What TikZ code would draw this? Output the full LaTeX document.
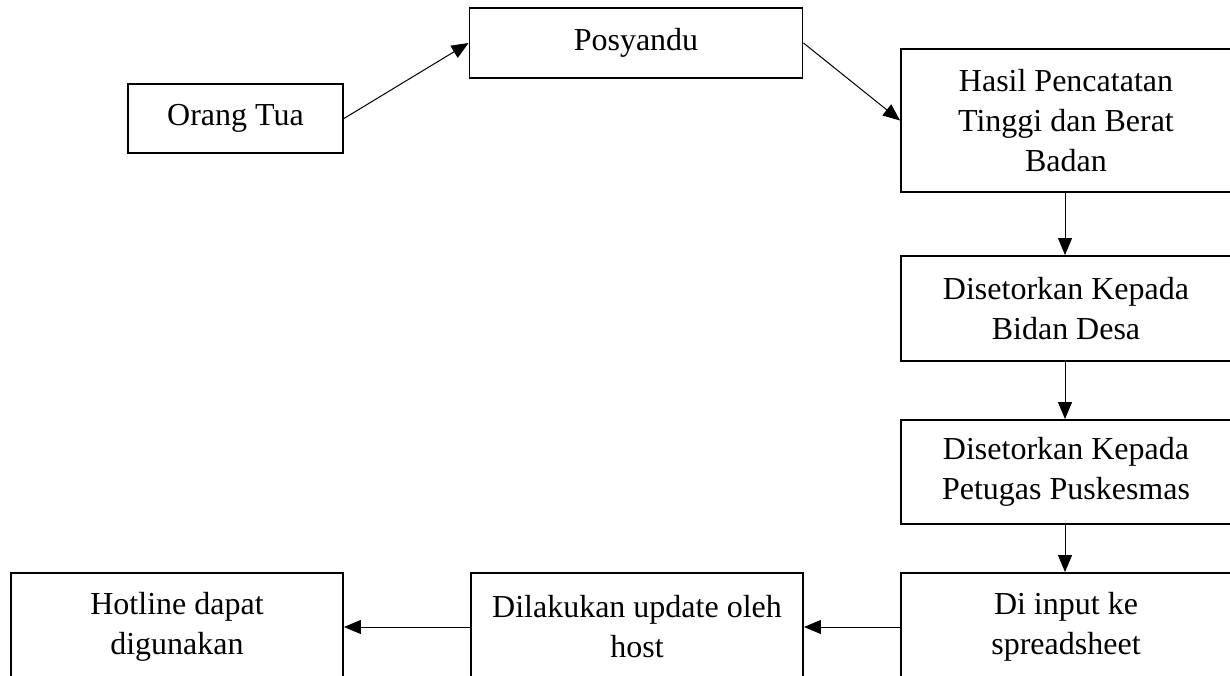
\documentclass[tikz,border=0pt]{standalone}
\usepackage{fontspec}
\setmainfont{Liberation Serif}
\usetikzlibrary{arrows.meta}
\begin{document}
\begin{tikzpicture}[x=1pt,y=1pt,
  box/.style={draw=black, line width=1.9pt, fill=white, inner sep=0pt, align=center,
    font=\fontsize{32}{40}\selectfont},
  flow/.style={line width=1pt, -{Triangle[length=17pt,width=14pt]}}]
\useasboundingbox (0,0) rectangle (1230,675);
\node[box, minimum width=215, minimum height=69] (ot) at (235.5,556.5) {Orang Tua};
\node[box, minimum width=333, minimum height=69.5] (pos) at (636,632) {Posyandu};
\node[box, minimum width=330, minimum height=143] (hasil) at (1066,554.5) {Hasil Pencatatan\\Tinggi dan Berat\\Badan};
\node[box, minimum width=330, minimum height=105] (bidan) at (1066,366.5) {Disetorkan Kepada\\Bidan Desa};
\node[box, minimum width=330, minimum height=104] (petugas) at (1066,203) {Disetorkan Kepada\\Petugas Puskesmas};
\node[box, minimum width=330, minimum height=108] (input) at (1066,48) {Di input ke\\spreadsheet};
\node[box, minimum width=332, minimum height=108] (update) at (637,48) {Dilakukan update oleh\\host};
\node[box, minimum width=332, minimum height=108] (hotline) at (177,48) {Hotline dapat\\digunakan};
\draw[flow] (ot.east) -- (pos.west);
\draw[flow] (pos.east) -- (hasil.west);
\draw[flow] (hasil.south -| 1065,0) -- (bidan.north -| 1065,0);
\draw[flow] (bidan.south -| 1065,0) -- (petugas.north -| 1065,0);
\draw[flow] (petugas.south -| 1065,0) -- (input.north -| 1065,0);
\draw[flow] (input.west) -- (update.east);
\draw[flow] (update.west) -- (hotline.east);
\end{tikzpicture}
\end{document}
